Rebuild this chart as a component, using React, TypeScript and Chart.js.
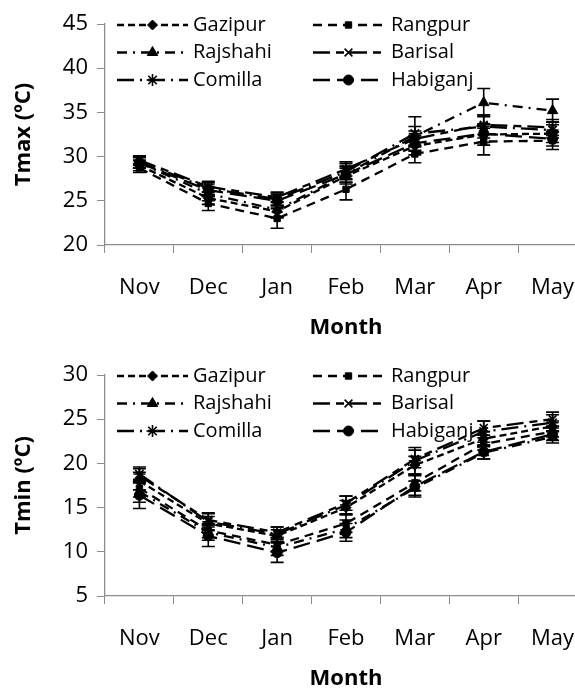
import React, { useEffect, useRef } from 'react';
import { Chart, registerables } from 'chart.js';
import { drawPoint } from 'chart.js/helpers';

Chart.register(...registerables);

// ---------- data ----------
const months = ['Nov', 'Dec', 'Jan', 'Feb', 'Mar', 'Apr', 'May'];
const stations = ['Gazipur', 'Rangpur', 'Rajshahi', 'Barisal', 'Comilla', 'Habiganj'];

// Tmax (°C)
const tmaxGazipur = [29.0, 25.3, 23.8, 27.8, 31.2, 32.5, 32.6];
const tmaxRangpur = [28.7, 24.7, 23.0, 26.3, 30.3, 31.7, 31.8];
const tmaxRajshahi = [29.3, 25.8, 24.0, 28.0, 32.3, 36.1, 35.2];
const tmaxBarisal = [29.6, 26.6, 25.4, 28.6, 32.0, 33.6, 33.3];
const tmaxComilla = [29.5, 26.4, 25.2, 28.3, 32.6, 33.4, 33.0];
const tmaxHabiganj = [29.3, 26.2, 25.0, 28.0, 31.5, 32.6, 32.0];

const tmaxErrGazipur = [0.6, 0.7, 0.7, 0.9, 1.0, 1.2, 1.0];
const tmaxErrRangpur = [0.5, 0.8, 1.1, 1.2, 1.0, 1.5, 1.0];
const tmaxErrRajshahi = [0.6, 0.8, 0.9, 0.9, 1.1, 1.6, 1.3];
const tmaxErrBarisal = [0.5, 0.6, 0.6, 0.8, 0.9, 1.1, 0.9];
const tmaxErrComilla = [0.5, 0.7, 0.7, 0.9, 1.9, 1.3, 0.9];
const tmaxErrHabiganj = [0.6, 0.7, 0.7, 0.9, 0.9, 1.0, 0.8];

// Tmin (°C)
const tminGazipur = [18.0, 13.2, 11.8, 15.0, 19.8, 22.8, 24.2];
const tminRangpur = [17.2, 12.4, 10.8, 13.2, 17.8, 22.2, 23.6];
const tminRajshahi = [16.8, 12.2, 10.5, 12.6, 17.2, 21.2, 23.0];
const tminBarisal = [18.6, 13.6, 12.2, 15.5, 20.5, 24.0, 25.0];
const tminComilla = [18.8, 13.4, 12.0, 15.3, 20.3, 23.6, 24.6];
const tminHabiganj = [16.4, 11.8, 9.9, 12.2, 17.4, 21.3, 23.3];

const tminErrGazipur = [1.0, 0.8, 0.7, 0.8, 1.0, 0.8, 0.6];
const tminErrRangpur = [1.0, 0.8, 0.8, 1.0, 0.9, 0.7, 0.6];
const tminErrRajshahi = [1.2, 0.9, 0.9, 1.0, 0.8, 0.7, 0.7];
const tminErrBarisal = [0.8, 0.8, 0.6, 0.8, 1.0, 0.8, 0.8];
const tminErrComilla = [0.8, 0.9, 0.8, 1.0, 1.5, 1.2, 0.9];
const tminErrHabiganj = [1.5, 1.2, 1.1, 1.0, 1.2, 0.8, 0.7];

const tmaxTicks = [20, 25, 30, 35, 40, 45];
const tminTicks = [5, 10, 15, 20, 25, 30];

// ---------- styles ----------
const FONT = "'Open Sans', 'Noto Sans', sans-serif";
const AXIS_GREY = '#8c8c8c';
const CANVAS_W = 600;
const CANVAS_H = 351;

const seriesStyles = [
  { dash: [7, 4], pointStyle: 'rectRot', radius: 5, filled: true },
  { dash: [9, 6], pointStyle: 'rect', radius: 4.5, filled: true },
  { dash: [10, 6, 2, 6], pointStyle: 'triangle', radius: 6, filled: true },
  { dash: [17, 6, 8, 6], pointStyle: 'crossRot', radius: 5.5, filled: false },
  { dash: [17, 6, 2, 6], pointStyle: 'star', radius: 6, filled: false },
  { dash: [17, 7], pointStyle: 'circle', radius: 5, filled: true },
];

function buildDatasets(values: number[][], errors: number[][]) {
  return stations.map((name, i) => {
    const s = seriesStyles[i];
    return {
      label: name,
      data: values[i],
      errors: errors[i],
      borderColor: '#000',
      backgroundColor: '#000',
      borderWidth: 2.3,
      borderDash: s.dash,
      pointStyle: s.pointStyle,
      pointRadius: s.radius,
      pointBackgroundColor: '#000',
      pointBorderColor: '#000',
      pointBorderWidth: s.filled ? 1 : 1.6,
      tension: 0,
      fill: false,
    };
  });
}

const errorBarPlugin = {
  id: 'errorBars',
  afterDatasetsDraw(chart: any) {
    const ctx = chart.ctx;
    const yScale = chart.scales.y;
    ctx.save();
    ctx.strokeStyle = '#000';
    ctx.lineWidth = 1.6;
    ctx.setLineDash([]);
    chart.data.datasets.forEach((ds: any, i: number) => {
      const meta = chart.getDatasetMeta(i);
      meta.data.forEach((pt: any, j: number) => {
        const v = ds.data[j];
        const e = ds.errors[j];
        const x = pt.x;
        const yT = yScale.getPixelForValue(v + e);
        const yB = yScale.getPixelForValue(v - e);
        ctx.beginPath();
        ctx.moveTo(x, yT);
        ctx.lineTo(x, yB);
        ctx.moveTo(x - 6.5, yT);
        ctx.lineTo(x + 6.5, yT);
        ctx.moveTo(x - 6.5, yB);
        ctx.lineTo(x + 6.5, yB);
        ctx.stroke();
      });
    });
    ctx.restore();
  },
};

const legendPlugin = {
  id: 'dashLegend',
  afterDraw(chart: any) {
    const ctx = chart.ctx;
    const colLineX = [117, 313];
    const lineLen = 71;
    const colTextX = [193, 391];
    const rowY = [25, 52.5, 80];
    ctx.save();
    chart.data.datasets.forEach((ds: any, i: number) => {
      const col = i % 2;
      const row = Math.floor(i / 2);
      const x0 = colLineX[col];
      const y = rowY[row];
      const s = seriesStyles[i];
      ctx.strokeStyle = '#000';
      ctx.lineWidth = 2.3;
      ctx.setLineDash(s.dash);
      ctx.beginPath();
      ctx.moveTo(x0, y);
      ctx.lineTo(x0 + lineLen, y);
      ctx.stroke();
      ctx.setLineDash([]);
      ctx.fillStyle = '#000';
      ctx.lineWidth = s.filled ? 1 : 1.6;
      drawPoint(ctx, { pointStyle: s.pointStyle, radius: s.radius, rotation: 0, borderWidth: s.filled ? 1 : 1.6 } as any, x0 + lineLen / 2, y);
      ctx.fillStyle = '#000';
      ctx.font = `20px ${FONT}`;
      ctx.textBaseline = 'middle';
      ctx.textAlign = 'left';
      ctx.fillText(ds.label, colTextX[col], y);
    });
    ctx.restore();
  },
};

function makeConfig(values: number[][], errors: number[][], ticks: number[], yTitle: string) {
  return {
    type: 'line',
    data: { labels: months, datasets: buildDatasets(values, errors) },
    plugins: [errorBarPlugin, legendPlugin],
    options: {
      responsive: false,
      animation: false,
      devicePixelRatio: 1,
      layout: { padding: { top: 24, left: 0, right: CANVAS_W - 587, bottom: 0 } },
      plugins: { legend: { display: false }, tooltip: { enabled: false } },
      scales: {
        x: {
          offset: true,
          grid: { offset: true, drawOnChartArea: false, drawTicks: true, tickLength: 8, color: AXIS_GREY, lineWidth: 1 },
          border: { color: AXIS_GREY, width: 1.3 },
          ticks: { color: '#000', font: { family: FONT, size: 22 }, padding: 22, maxRotation: 0 },
          title: { display: true, text: 'Month', color: '#000', font: { family: FONT, size: 22, weight: 'bold' }, padding: { top: 0, bottom: 10 } },
          afterFit(scale: any) { scale.height = CANVAS_H - 245; },
        },
        y: {
          min: ticks[0],
          max: ticks[ticks.length - 1],
          afterBuildTicks(scale: any) { scale.ticks = ticks.map((v) => ({ value: v })); },
          grid: { drawOnChartArea: false, drawTicks: true, tickLength: 8, color: AXIS_GREY, lineWidth: 1 },
          border: { color: AXIS_GREY, width: 1.3 },
          ticks: { color: '#000', font: { family: FONT, size: 22 }, padding: 9 },
          title: { display: true, text: yTitle, color: '#000', font: { family: FONT, size: 22, weight: 'bold' }, padding: { top: 11, bottom: 0 } },
          afterFit(scale: any) { scale.width = 105; },
        },
      },
    },
  } as any;
}

function LineChart({ values, errors, ticks, yTitle }: { values: number[][]; errors: number[][]; ticks: number[]; yTitle: string }) {
  const ref = useRef<HTMLCanvasElement | null>(null);
  useEffect(() => {
    if (!ref.current) return;
    const chart = new Chart(ref.current, makeConfig(values, errors, ticks, yTitle));
    return () => chart.destroy();
  }, []);
  return <canvas ref={ref} width={CANVAS_W} height={CANVAS_H} style={{ display: 'block', width: CANVAS_W, height: CANVAS_H }} />;
}

export default function App() {
  const tmaxValues = [tmaxGazipur, tmaxRangpur, tmaxRajshahi, tmaxBarisal, tmaxComilla, tmaxHabiganj];
  const tmaxErrors = [tmaxErrGazipur, tmaxErrRangpur, tmaxErrRajshahi, tmaxErrBarisal, tmaxErrComilla, tmaxErrHabiganj];
  const tminValues = [tminGazipur, tminRangpur, tminRajshahi, tminBarisal, tminComilla, tminHabiganj];
  const tminErrors = [tminErrGazipur, tminErrRangpur, tminErrRajshahi, tminErrBarisal, tminErrComilla, tminErrHabiganj];
  return (
    <div style={{ position: 'absolute', left: 0, top: 0, width: 575, height: 689, overflow: 'hidden', background: '#fff' }}>
      <div style={{ position: 'absolute', left: 0, top: 0 }}>
        <LineChart values={tmaxValues} errors={tmaxErrors} ticks={tmaxTicks} yTitle="Tmax (ºC)" />
      </div>
      <div style={{ position: 'absolute', left: 0, top: 351 }}>
        <LineChart values={tminValues} errors={tminErrors} ticks={tminTicks} yTitle="Tmin (ºC)" />
      </div>
    </div>
  );
}
